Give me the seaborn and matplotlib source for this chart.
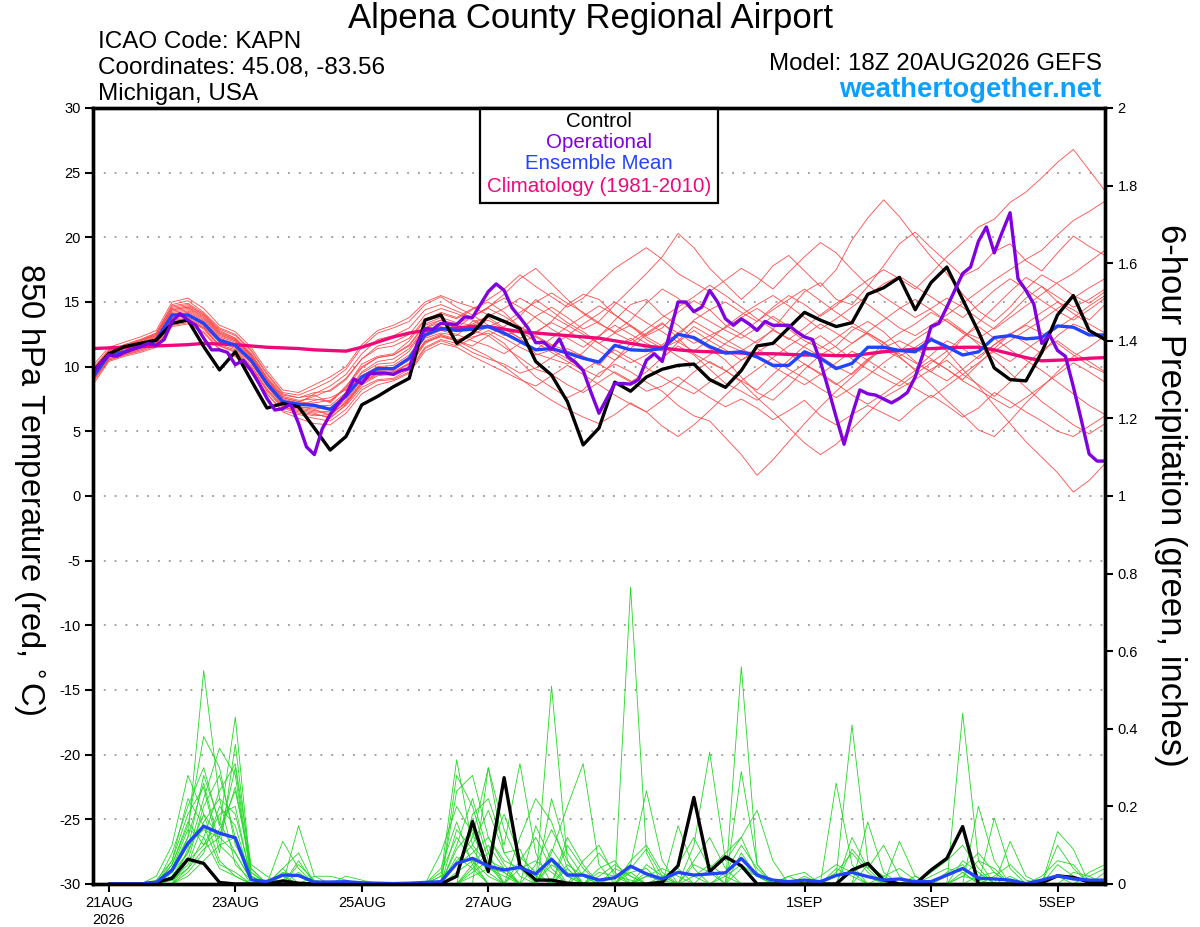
import numpy as np
import pandas as pd
import matplotlib
matplotlib.use('Agg')
import matplotlib.pyplot as plt
import seaborn as sns
from matplotlib.patches import Rectangle

sns.set_theme(style='white')
plt.rcParams['font.family'] = ['Liberation Sans', 'DejaVu Sans']
plt.rcParams['axes.unicode_minus'] = False
plt.rcParams['text.color'] = 'black'
plt.rcParams['xtick.color'] = 'black'
plt.rcParams['ytick.color'] = 'black'
plt.rcParams['axes.labelcolor'] = 'black'

# ---------------- data ----------------
run_start = '2026-08-20 18:00'
times = pd.date_range(run_start, periods=65, freq='6h')      # GEFS 6-hourly
times_op = pd.date_range(run_start, periods=129, freq='3h')  # operational 3-hourly
times_pr = times[1:]                                         # 6-h precip totals

tick_dates = ['2026-08-21', '2026-08-23', '2026-08-25', '2026-08-27',
              '2026-08-29', '2026-09-01', '2026-09-03', '2026-09-05']
tick_labels = ['21AUG\n2026', '23AUG', '25AUG', '27AUG', '29AUG', '1SEP', '3SEP', '5SEP']

temp_ticks = [-30, -25, -20, -15, -10, -5, 0, 5, 10, 15, 20, 25, 30]
precip_ticks = [0, 0.2, 0.4, 0.6, 0.8, 1.0, 1.2, 1.4, 1.6, 1.8, 2.0]
precip_tick_labels = ['0', '0.2', '0.4', '0.6', '0.8', '1', '1.2', '1.4', '1.6', '1.8', '2']

control_temp = [9.6, 11.0, 11.55, 11.8, 12.05, 13.35, 13.6, 11.55, 9.75, 11.15, 8.95, 6.8, 7.15,
                6.9, 5.25, 3.55, 4.6, 7.05, 7.7, 8.45, 9.1, 13.6, 14.0, 11.8, 12.6,
                14.0, 13.5, 12.95, 10.4, 9.35, 7.3, 3.95, 5.25, 8.8, 8.1, 9.2, 9.8, 10.1, 10.2, 9.0, 8.4,
                9.7, 11.6, 11.8, 13.0, 14.2, 13.6, 13.1, 13.4, 15.6, 16.1, 16.9, 14.4,
                16.5, 17.7, 15.2, 12.7, 9.9, 9.0, 8.9, 11.1, 14.0, 15.5, 12.8, 12.1]

mean_temp = [9.2, 10.9, 11.15, 11.55, 12.05, 14.0, 14.0, 13.35, 12.05, 11.65, 10.5, 8.7, 7.3,
             7.1, 7.0, 6.7, 7.7, 9.2, 9.85, 9.85, 10.65, 12.45, 12.95, 12.8, 12.9,
             13.1, 12.6, 11.95, 11.3, 11.4, 11.05, 10.65, 10.35, 11.65, 11.3, 11.25, 11.4, 12.5, 12.25, 11.55, 11.05,
             11.15, 10.75, 10.1, 10.1, 11.15, 10.65, 9.85, 10.25, 11.5, 11.5, 11.25, 11.15,
             12.1, 11.55, 10.9, 11.15, 12.25, 12.4, 12.15, 12.25, 13.15, 13.05, 12.45, 12.45]

clim_temp = [11.4, 11.45, 11.5, 11.55, 11.6, 11.65, 11.7, 11.8, 11.75, 11.7, 11.6, 11.5, 11.45,
             11.4, 11.3, 11.25, 11.2, 11.5, 11.9, 12.3, 12.6, 12.8, 12.9, 13.0, 13.1,
             13.1, 12.9, 12.7, 12.6, 12.5, 12.4, 12.3, 12.2, 12.0, 11.8, 11.6, 11.45, 11.3, 11.2, 11.15, 11.1,
             11.05, 11.0, 11.0, 10.95, 10.9, 10.9, 10.85, 10.85, 11.0, 11.15, 11.25, 11.35,
             11.4, 11.45, 11.5, 11.5, 11.3, 11.0, 10.7, 10.45, 10.5, 10.55, 10.65, 10.7]

oper_temp = [9.5, 10.3, 10.9, 10.8, 11.1, 11.35, 11.55, 11.8, 11.65, 12.1, 13.5, 14.1, 13.6, 13.2, 12.2, 11.3,
             11.3, 11.1, 10.15, 10.5, 9.7, 8.7, 7.55, 6.65, 6.75, 7.1, 5.6, 3.8, 3.2, 5.2, 6.3, 7.1,
             7.85, 9.05, 8.7, 9.45, 9.5, 9.5, 9.4, 9.7, 9.85, 11.8, 12.95, 12.9, 13.35, 13.3, 13.25, 13.85,
             13.8, 14.8, 15.8, 16.4, 15.9, 14.55, 13.8, 13.0, 11.85, 11.9, 11.35, 12.15, 10.8, 10.35, 9.7, 8.0,
             6.4, 7.55, 8.7, 8.7, 8.65, 9.0, 10.5, 11.0, 10.4, 12.7, 15.0, 15.0, 14.25, 14.6, 15.9, 15.0,
             13.7, 13.2, 13.7, 13.3, 12.8, 13.5, 13.2, 13.2, 13.2, 12.7, 12.3, 12.1, 10.4, 8.3, 6.1, 4.0,
             6.25, 8.2, 7.9, 7.8, 7.5, 7.2, 7.55, 8.0, 9.2, 11.0, 13.1, 13.35, 14.6, 15.9, 17.2, 17.7,
             19.7, 20.8, 18.8, 20.4, 21.9, 16.8, 15.9, 14.85, 11.8, 12.45, 11.25, 10.8, 8.45, 5.9, 3.25, 2.7, 2.7]

# ensemble member 850 hPa temperatures
temp_m01 = [9.8, 11.2, 11.6, 12.0, 12.5, 14.6, 14.8, 14.0, 12.8, 12.2, 11.0, 9.2, 7.8,
            7.6, 7.8, 7.2, 8.4, 10.2, 10.8, 11.0, 12.0, 13.6, 14.2, 13.8, 14.5,
            15.0, 14.2, 13.0, 12.6, 13.5, 14.8, 15.6, 15.2, 14.0, 13.2, 12.4, 13.0, 14.2, 15.1, 14.4, 13.2,
            12.5, 11.8, 12.9, 14.4, 15.8, 16.5, 15.2, 14.8, 16.2, 17.8, 19.5, 20.4,
            19.2, 18.1, 17.0, 17.6, 18.9, 19.5, 18.2, 17.4, 18.8, 20.1, 19.3, 18.6]
temp_m02 = [9.0, 10.6, 11.0, 11.3, 11.8, 13.5, 13.6, 13.0, 11.6, 11.2, 10.0, 8.2, 6.9,
            6.6, 6.4, 6.0, 7.1, 8.6, 9.3, 9.4, 10.0, 11.8, 12.4, 12.0, 11.6,
            12.4, 11.5, 10.7, 9.8, 9.4, 8.6, 8.0, 8.8, 9.6, 8.9, 8.1, 8.5, 9.2, 8.4, 7.6, 6.9,
            7.5, 6.8, 5.9, 6.6, 7.4, 6.2, 5.5, 6.3, 7.0, 6.4, 5.8, 6.9,
            7.8, 7.0, 6.1, 6.8, 8.0, 7.3, 6.5, 5.8, 5.0, 4.6, 5.4, 6.2]
temp_m03 = [9.4, 11.0, 11.4, 11.8, 12.3, 14.2, 14.4, 13.6, 12.4, 12.0, 10.8, 8.9, 7.4,
            7.0, 7.4, 7.6, 8.2, 9.0, 9.6, 9.7, 10.6, 12.2, 12.6, 12.4, 13.5,
            13.8, 13.0, 12.2, 11.0, 10.6, 10.2, 11.1, 12.3, 13.6, 14.8, 15.2, 14.0, 13.2, 12.1, 11.4, 10.5,
            9.2, 8.0, 7.4, 8.5, 9.8, 10.9, 11.6, 12.8, 13.5, 12.7, 11.5, 10.4,
            9.6, 10.8, 12.2, 13.4, 14.6, 15.8, 16.9, 16.2, 15.0, 14.4, 13.6, 14.8]
temp_m04 = [9.9, 11.3, 11.7, 12.1, 12.6, 14.8, 15.1, 14.2, 13.0, 12.5, 11.3, 9.5, 8.0,
            7.8, 8.3, 8.9, 9.8, 11.5, 12.6, 13.0, 13.5, 14.8, 15.4, 14.6, 14.0,
            13.2, 12.4, 12.8, 13.9, 14.6, 13.8, 12.9, 13.5, 14.8, 16.0, 17.2, 18.5, 20.3, 19.2, 17.6, 16.4,
            15.2, 16.3, 17.8, 18.6, 17.4, 16.2, 17.5, 19.8, 21.5, 22.9, 21.6, 20.0,
            18.5, 17.2, 15.6, 14.3, 13.5, 14.6, 16.0, 17.1, 16.4, 15.5, 14.9, 15.8]
temp_m05 = [8.8, 10.5, 10.9, 11.2, 11.6, 13.2, 13.4, 12.7, 11.4, 10.8, 9.6, 7.9, 6.6,
            6.3, 6.0, 5.8, 6.7, 8.2, 8.9, 9.0, 9.6, 11.4, 12.0, 11.6, 12.2,
            12.8, 12.2, 11.5, 10.9, 11.3, 10.6, 9.8, 9.2, 10.5, 11.8, 12.6, 13.4, 12.2, 11.0, 10.3, 9.7,
            8.8, 7.6, 6.5, 5.3, 4.1, 3.2, 4.0, 5.2, 6.4, 7.6, 8.3, 9.0,
            9.8, 10.5, 9.4, 8.6, 7.7, 8.8, 10.1, 11.3, 12.0, 11.1, 10.4, 9.6]
temp_m06 = [9.6, 11.1, 11.5, 11.9, 12.4, 14.4, 14.6, 13.9, 12.6, 12.1, 10.9, 9.0, 7.6,
            7.3, 7.1, 6.8, 7.9, 9.5, 10.2, 10.3, 11.2, 13.0, 13.6, 13.2, 12.8,
            12.4, 13.1, 13.9, 15.2, 14.3, 13.4, 12.7, 11.8, 12.6, 13.2, 12.1, 11.4, 12.0, 13.1, 12.4, 11.7,
            11.2, 12.0, 12.8, 12.2, 11.5, 10.8, 10.0, 9.4, 10.5, 11.8, 12.6, 13.3,
            14.2, 13.5, 12.7, 12.2, 13.0, 14.1, 15.3, 16.2, 15.4, 14.6, 15.2, 16.0]
temp_m07 = [9.2, 10.8, 11.2, 11.5, 12.0, 13.8, 14.0, 13.3, 12.0, 11.6, 10.4, 8.6, 7.2,
            6.9, 6.7, 6.2, 7.3, 8.8, 9.5, 9.6, 10.3, 12.0, 12.5, 12.1, 12.3,
            12.6, 11.8, 10.4, 9.2, 8.4, 7.6, 8.2, 9.5, 10.2, 9.6, 8.8, 8.1, 7.0, 6.2, 5.8, 4.5,
            3.2, 1.6, 2.8, 4.2, 5.6, 6.9, 8.1, 9.2, 10.4, 11.5, 12.0, 11.4,
            10.6, 9.8, 9.0, 10.2, 11.4, 12.5, 13.2, 12.6, 11.8, 10.9, 10.1, 9.5]
temp_m08 = [9.7, 11.2, 11.6, 12.0, 12.4, 14.5, 14.7, 14.0, 12.7, 12.2, 11.0, 9.1, 7.7,
            7.4, 7.5, 7.3, 8.5, 10.0, 10.7, 10.9, 11.7, 13.3, 13.8, 13.4, 13.2,
            13.6, 12.9, 12.2, 12.7, 13.4, 12.8, 12.0, 11.2, 10.5, 11.4, 12.5, 13.3, 12.6, 11.8, 12.4, 13.0,
            13.8, 14.5, 13.7, 12.9, 12.0, 11.4, 12.2, 13.1, 12.5, 11.6, 10.8, 11.5,
            12.3, 11.2, 9.8, 8.5, 7.0, 5.6, 4.2, 3.0, 1.8, 0.3, 1.2, 2.5]
temp_m09 = [9.3, 10.9, 11.3, 11.7, 12.2, 14.0, 14.2, 13.4, 12.2, 11.8, 10.6, 8.8, 7.3,
            7.0, 7.0, 7.0, 8.0, 9.6, 10.4, 10.6, 11.4, 13.0, 13.4, 13.0, 13.9,
            14.6, 15.3, 14.6, 13.8, 12.9, 12.2, 11.5, 12.4, 13.2, 12.5, 11.8, 11.2, 12.4, 13.6, 14.4, 15.0,
            14.2, 13.5, 14.6, 15.5, 14.8, 13.9, 14.7, 15.8, 16.7, 17.5, 16.8, 16.0,
            17.2, 18.5, 19.6, 20.8, 21.4, 22.7, 23.5, 24.6, 25.8, 26.8, 25.2, 23.6]
temp_m10 = [9.1, 10.7, 11.1, 11.4, 11.9, 13.7, 13.8, 13.1, 11.9, 11.4, 10.3, 8.5, 7.1,
            6.8, 6.6, 6.5, 7.4, 9.0, 9.7, 9.8, 10.5, 12.3, 12.8, 12.5, 12.0,
            11.6, 11.0, 11.8, 12.4, 11.7, 11.2, 10.8, 10.1, 11.5, 12.2, 11.4, 10.6, 11.9, 12.8, 12.0, 11.3,
            10.5, 11.1, 11.9, 11.0, 10.2, 9.4, 8.6, 9.5, 10.6, 11.3, 10.7, 9.8,
            10.9, 12.0, 11.4, 10.6, 11.7, 12.6, 11.8, 11.0, 12.4, 13.3, 12.8, 12.0]
temp_m11 = [9.5, 11.0, 11.4, 11.8, 12.3, 14.3, 14.5, 13.7, 12.5, 12.0, 10.8, 9.0, 7.5,
            7.2, 7.9, 8.5, 9.4, 11.0, 12.1, 12.4, 13.0, 14.4, 14.8, 14.3, 13.8,
            14.6, 15.6, 16.8, 17.6, 16.4, 15.2, 14.1, 13.3, 12.7, 13.6, 14.9, 16.0, 15.3, 14.2, 13.5, 12.8,
            12.2, 13.0, 13.9, 13.1, 12.4, 11.6, 10.9, 11.8, 12.6, 11.9, 10.8, 9.7,
            8.6, 7.4, 6.3, 5.1, 4.6, 5.8, 7.2, 8.4, 9.6, 10.8, 11.5, 12.4]
temp_m12 = [9.0, 10.6, 11.0, 11.4, 11.8, 13.6, 13.7, 13.0, 11.7, 11.3, 10.1, 8.3, 6.9,
            6.5, 6.3, 6.1, 7.0, 8.4, 9.0, 9.1, 9.8, 11.5, 12.1, 11.8, 11.1,
            10.6, 10.2, 9.5, 9.9, 10.7, 11.4, 10.8, 10.2, 9.5, 8.8, 9.6, 10.7, 11.6, 10.9, 9.8, 8.7,
            8.1, 7.4, 8.3, 9.4, 10.2, 9.5, 8.7, 7.8, 7.1, 7.9, 8.8, 9.7,
            10.5, 9.8, 8.9, 8.2, 7.5, 6.8, 7.6, 8.5, 9.4, 10.3, 9.6, 8.8]
temp_m13 = [9.8, 11.3, 11.7, 12.1, 12.6, 14.7, 14.9, 14.1, 12.9, 12.4, 11.2, 9.4, 7.9,
            7.6, 8.0, 8.1, 9.0, 10.6, 11.4, 11.6, 12.2, 13.7, 14.1, 13.7, 14.4,
            15.2, 16.0, 17.1, 16.2, 15.4, 14.6, 15.3, 16.5, 17.6, 18.4, 19.2, 18.3, 17.2, 16.5, 15.8, 16.7,
            17.6, 16.9, 16.0, 17.3, 18.5, 19.6, 18.8, 17.5, 16.3, 15.4, 14.6, 13.8,
            14.5, 15.3, 14.6, 13.7, 12.9, 13.8, 14.7, 15.6, 16.5, 17.2, 18.1, 19.0]
temp_m14 = [8.6, 10.4, 10.8, 11.1, 11.5, 13.1, 13.3, 12.6, 11.3, 10.8, 9.7, 7.9, 6.5,
            6.0, 5.6, 5.5, 6.4, 7.9, 8.6, 8.9, 9.5, 11.2, 11.8, 11.5, 10.8,
            10.2, 9.6, 9.0, 8.5, 9.3, 10.1, 9.4, 8.6, 7.8, 7.1, 6.5, 7.4, 8.5, 9.6, 10.4, 9.7,
            8.9, 8.2, 9.4, 10.5, 11.6, 12.4, 11.5, 10.6, 9.8, 9.1, 8.5, 9.4,
            10.3, 11.2, 12.3, 13.1, 12.2, 11.3, 10.5, 9.7, 8.8, 7.9, 7.0, 6.3]
temp_m15 = [10.1, 11.5, 11.9, 12.3, 12.8, 15.0, 15.3, 14.5, 13.2, 12.7, 11.5, 9.7, 8.2,
            8.0, 8.6, 9.2, 10.0, 11.7, 12.8, 13.2, 13.8, 15.0, 15.5, 15.0, 14.6,
            14.0, 13.4, 14.2, 15.0, 15.7, 14.9, 14.2, 13.4, 12.6, 12.0, 12.9, 13.8, 14.6, 15.4, 16.3, 15.5,
            14.6, 13.7, 12.9, 12.1, 13.0, 14.0, 14.9, 15.6, 14.8, 13.9, 13.0, 12.4,
            13.2, 14.0, 14.9, 15.8, 16.7, 17.5, 18.3, 19.0, 20.2, 21.3, 22.0, 22.8]
temp_m16 = [9.2, 10.8, 11.1, 11.5, 11.9, 13.8, 13.9, 13.2, 11.9, 11.5, 10.3, 8.5, 7.0,
            6.7, 6.5, 6.4, 7.2, 8.7, 9.4, 9.5, 10.2, 11.9, 12.4, 12.0, 11.4,
            10.8, 10.0, 9.1, 8.2, 7.4, 6.7, 6.1, 5.6, 6.3, 7.2, 6.5, 5.4, 4.6, 5.5, 6.6, 7.8,
            8.9, 9.8, 10.7, 11.6, 12.4, 13.3, 12.6, 11.8, 12.7, 13.6, 14.5, 15.2,
            14.4, 13.5, 12.6, 11.9, 11.1, 10.4, 11.3, 12.2, 13.0, 13.8, 14.7, 15.5]
temp_m17 = [9.4, 10.9, 11.3, 11.7, 12.2, 14.1, 14.3, 13.5, 12.3, 11.9, 10.7, 8.8, 7.4,
            7.1, 7.2, 7.4, 8.3, 9.9, 10.7, 10.9, 11.6, 13.2, 13.6, 13.3, 13.9,
            14.5, 13.9, 13.1, 12.3, 11.6, 12.4, 13.3, 14.1, 15.0, 14.2, 13.4, 12.7, 11.9, 11.2, 12.1, 13.1,
            14.0, 14.8, 15.5, 14.7, 13.8, 12.9, 13.7, 14.6, 15.5, 16.4, 17.0, 16.2,
            15.4, 14.6, 13.8, 14.8, 15.9, 16.8, 16.0, 15.1, 14.3, 13.6, 14.4, 15.3]
temp_m18 = [8.9, 10.5, 10.9, 11.3, 11.7, 13.4, 13.6, 12.9, 11.6, 11.1, 9.9, 8.1, 6.8,
            6.4, 6.2, 6.3, 7.2, 8.8, 9.5, 9.6, 10.2, 11.9, 12.3, 12.0, 12.5,
            13.1, 13.6, 12.8, 11.9, 11.1, 10.4, 9.7, 10.5, 11.3, 10.6, 9.9, 9.2, 8.5, 7.9, 8.8, 9.6,
            10.5, 11.4, 10.6, 9.8, 9.1, 8.3, 7.6, 8.4, 9.3, 10.3, 11.2, 12.1,
            12.9, 13.7, 12.8, 11.7, 10.6, 9.5, 8.4, 7.3, 6.4, 5.5, 4.8, 5.6]
temp_m19 = [9.6, 11.1, 11.5, 12.0, 12.5, 14.4, 14.6, 13.8, 12.6, 12.1, 10.9, 9.1, 7.6,
            7.3, 7.7, 8.2, 9.1, 10.6, 11.6, 11.9, 12.5, 14.0, 14.5, 14.1, 13.6,
            13.0, 12.5, 11.9, 11.3, 12.2, 13.1, 13.9, 14.7, 14.0, 13.1, 12.3, 11.6, 10.8, 10.1, 10.9, 11.8,
            12.6, 13.5, 14.4, 15.2, 16.0, 15.1, 14.2, 13.4, 12.6, 11.8, 11.0, 10.3,
            9.6, 8.9, 9.8, 10.8, 11.7, 12.5, 13.3, 14.2, 15.0, 14.1, 13.3, 12.6]
temp_m20 = [9.3, 10.8, 11.2, 11.6, 12.0, 13.9, 14.1, 13.3, 12.0, 11.6, 10.5, 8.7, 7.2,
            6.9, 6.8, 6.7, 7.7, 9.3, 10.0, 10.1, 10.9, 12.6, 13.1, 12.8, 13.3,
            13.9, 14.5, 15.3, 14.6, 13.9, 13.2, 12.5, 11.8, 11.0, 10.3, 10.9, 11.7, 12.6, 13.5, 12.8, 12.1,
            11.4, 10.7, 10.0, 9.3, 8.6, 9.4, 10.3, 11.2, 10.5, 9.7, 9.0, 8.3,
            7.6, 8.5, 9.4, 10.3, 11.2, 12.0, 12.8, 13.6, 14.5, 15.3, 16.1, 16.8]

control_precip = [0, 0, 0, 0.004, 0.015, 0.064, 0.053, 0.004,
                  0, 0, 0, 0.008, 0.002, 0, 0, 0,
                  0, 0, 0, 0, 0, 0, 0.02, 0.161,
                  0.032, 0.274, 0.047, 0.01, 0.01, 0.002, 0, 0,
                  0, 0, 0, 0.005, 0.047, 0.223, 0.032, 0.07,
                  0.047, 0, 0, 0, 0, 0, 0, 0.036,
                  0.053, 0.01, 0, 0, 0.036, 0.066, 0.148, 0,
                  0, 0, 0, 0.003, 0.021, 0.017, 0.005, 0.005]

mean_precip = [0, 0, 0, 0.004, 0.036, 0.105, 0.149, 0.131,
               0.119, 0.011, 0.006, 0.023, 0.022, 0.005, 0.005, 0.006,
               0.003, 0.002, 0.001, 0.002, 0.004, 0.006, 0.053, 0.066,
               0.046, 0.036, 0.043, 0.026, 0.064, 0.023, 0.023, 0.01,
               0.016, 0.046, 0.026, 0.013, 0.03, 0.023, 0.026, 0.029,
               0.066, 0.023, 0.01, 0.006, 0.01, 0.006, 0.022, 0.03,
               0.019, 0.01, 0.013, 0.006, 0.006, 0.023, 0.04, 0.015,
               0.013, 0.01, 0.001, 0.01, 0.021, 0.013, 0.01, 0.01]

# ensemble member 6-hour precipitation (inches)
prcp_m01 = [0, 0, 0, 0, .04, .12, .55, .22, .05, .01, 0, 0, 0, 0, 0, 0,
            0, 0, 0, 0, 0, 0, .05, .12, .30, .08, .02, 0, 0, 0, 0, 0,
            0, .05, .24, .06, 0, 0, 0, 0, 0, 0, 0, 0, 0, 0, .02, .41,
            .06, 0, 0, 0, 0, 0, .03, 0, 0, 0, 0, 0, 0, 0, 0, 0]
prcp_m02 = [0, 0, 0, 0, .08, .20, .30, .15, .43, .02, 0, .11, .04, 0, 0, 0,
            0, 0, 0, 0, 0, .02, .32, .10, .05, 0, 0, 0, .08, .20, .31, .05,
            0, 0, 0, 0, 0, 0, 0, 0, .56, .05, 0, 0, 0, 0, 0, 0,
            0, 0, 0, 0, 0, 0, .44, .06, 0, 0, 0, 0, 0, 0, 0, 0]
prcp_m03 = [0, 0, 0, .02, .10, .28, .18, .12, .25, .04, 0, 0, .15, .02, 0, 0,
            0, 0, 0, 0, 0, 0, .24, .28, .12, .06, .04, 0, .51, .06, 0, 0,
            0, .765, .08, 0, 0, .05, .03, 0, 0, 0, 0, 0, 0, 0, 0, 0,
            .16, .03, 0, 0, 0, 0, 0, 0, .17, .04, 0, 0, 0, 0, 0, 0]
prcp_m04 = [0, 0, 0, 0, .05, .15, .38, .30, .10, .03, 0, .04, 0, 0, 0, 0,
            0, 0, 0, 0, 0, 0, 0, .18, .22, .10, .31, .08, 0, 0, 0, .04,
            .06, 0, 0, 0, 0, .10, .34, .06, .12, .19, .06, 0, 0, 0, .26, .05,
            0, 0, 0, 0, 0, 0, 0, .20, .06, 0, 0, 0, .135, .09, 0, 0]
prcp_m05 = [0, 0, 0, 0, .02, .08, .22, .35, .28, .01, 0, 0, .06, 0, 0, 0,
            0, 0, 0, 0, 0, .04, .16, .05, 0, 0, .12, .22, .16, .04, 0, 0,
            0, 0, .03, 0, .15, .04, 0, 0, .29, .05, 0, 0, 0, 0, 0, 0,
            0, 0, .11, .02, 0, 0, 0, 0, 0, 0, 0, 0, 0, 0, 0, 0]
prcp_m06 = [0, 0, 0, 0, 0, .04, .12, .24, .31, .05, .02, 0, 0, 0, 0, 0,
            0, 0, 0, 0, 0, 0, .28, .20, .06, 0, 0, 0, .22, .08, .02, 0,
            0, .06, .10, .03, 0, 0, 0, 0, 0, 0, 0, .02, .03, 0, 0, 0,
            0, 0, 0, 0, .03, .06, .10, .04, 0, 0, 0, 0, 0, 0, .03, .05]
prcp_m07 = [0, 0, 0, .01, .06, .18, .25, .08, .36, .02, 0, .04, .08, 0, 0, 0,
            0, 0, 0, 0, 0, 0, 0, 0, .30, .14, .05, .02, 0, .12, .05, 0,
            .04, .02, 0, 0, .05, .12, .04, 0, 0, 0, 0, 0, 0, 0, 0, .09,
            .04, .10, .02, 0, 0, 0, 0, 0, 0, .11, .02, 0, 0, 0, 0, 0]
prcp_m08 = [0, 0, 0, 0, .03, .10, .14, .12, .30, .02, 0, 0, 0, 0, 0, 0,
            0, 0, 0, 0, 0, .08, .20, .13, .04, .02, 0, .05, .14, .06, 0, 0,
            0, 0, .05, .02, 0, 0, 0, .03, .10, .04, 0, 0, 0, .02, .05, .03,
            0, 0, 0, 0, 0, .02, .04, .08, .03, 0, 0, 0, 0, 0, 0, 0]
prcp_m09 = [0, 0, 0, 0, .05, .16, .10, .18, .20, .01, 0, 0, 0, .02, .02, .01,
            0, 0, 0, 0, 0, 0, .06, .10, .19, .08, .09, 0, 0, 0, .03, .08,
            .03, 0, 0, 0, 0, 0, .04, .08, .12, .03, 0, 0, 0, 0, 0, 0,
            0, 0, 0, 0, 0, 0, 0, 0, 0, 0, 0, .02, .06, .05, 0, 0]
prcp_m10 = [0, 0, 0, 0, 0, .06, .20, .28, .12, .03, 0, .03, .02, 0, 0, 0,
            0, 0, 0, 0, 0, 0, 0, .04, .08, .18, .07, .03, 0, .04, 0, 0,
            0, .04, .09, .02, 0, 0, 0, 0, 0, 0, 0, 0, 0, 0, 0, 0,
            .05, .02, 0, 0, 0, 0, .06, .03, 0, 0, 0, 0, .10, .04, 0, 0]
prcp_m11 = [0, 0, 0, 0, .03, .12, .26, .10, .06, 0, .01, 0, 0, 0, 0, .02,
            .01, 0, 0, 0, 0, 0, .10, .22, .08, 0, 0, .15, .06, 0, 0, 0,
            .02, .03, 0, 0, 0, .06, .12, .04, 0, 0, 0, 0, 0, 0, .03, .08,
            .03, 0, 0, .02, 0, 0, 0, 0, 0, 0, 0, 0, 0, 0, 0, 0]
prcp_m12 = [0, 0, 0, 0, .01, .05, .16, .22, .18, .02, 0, 0, .05, .01, 0, 0,
            0, 0, 0, 0, 0, .03, .12, .06, 0, 0, 0, 0, .05, .02, 0, 0,
            0, 0, 0, .02, .04, 0, 0, 0, .08, .02, 0, 0, 0, 0, 0, 0,
            0, 0, 0, 0, 0, .03, .05, 0, 0, 0, 0, 0, 0, 0, .02, .04]
prcp_m13 = [0, 0, 0, 0, 0, .09, .28, .16, .08, .01, 0, 0, 0, 0, 0, 0,
            0, 0, 0, 0, 0, 0, .14, .09, .03, 0, .06, .12, .04, 0, .06, .10,
            .02, .01, 0, 0, 0, 0, 0, 0, 0, 0, 0, 0, 0, 0, 0, .12,
            .04, 0, 0, 0, 0, 0, 0, 0, .02, .05, .01, 0, 0, 0, 0, 0]
prcp_m14 = [0, 0, 0, 0, .06, .22, .15, .05, .03, 0, .01, .02, 0, 0, 0, 0,
            0, 0, 0, 0, 0, 0, 0, .03, .06, .04, 0, 0, 0, .10, .04, 0,
            0, 0, .02, .04, .02, 0, 0, 0, 0, 0, 0, .02, 0, 0, 0, 0,
            0, 0, 0, 0, 0, 0, .02, .06, .04, 0, 0, 0, 0, .03, .02, 0]
prcp_m15 = [0, 0, 0, 0, .02, .06, .10, .14, .24, .04, 0, 0, 0, 0, 0, 0,
            0, 0, 0, 0, 0, 0, .09, .14, .05, .03, 0, 0, 0, 0, 0, .02,
            .05, .02, 0, 0, 0, 0, 0, .02, .05, .02, 0, 0, 0, 0, 0, 0,
            0, .02, .04, .01, 0, 0, 0, 0, 0, 0, 0, 0, 0, 0, 0, 0]
prcp_m16 = [0, 0, 0, 0, 0, .03, .08, .20, .15, .01, 0, 0, 0, 0, 0, 0,
            0, 0, 0, 0, 0, .02, .05, .08, .12, .05, 0, 0, .09, .03, 0, 0,
            0, 0, 0, 0, 0, .02, .05, .02, 0, 0, 0, 0, 0, 0, .04, .02,
            0, 0, 0, 0, 0, 0, 0, 0, 0, 0, 0, 0, .05, .02, 0, 0]
prcp_m17 = [0, 0, 0, 0, .04, .14, .12, .04, .02, 0, 0, 0, .03, 0, 0, 0,
            0, 0, 0, 0, 0, 0, .07, .04, 0, 0, .04, .06, .03, 0, 0, 0,
            0, .03, .04, 0, 0, 0, 0, 0, 0, 0, 0, 0, .02, 0, 0, 0,
            0, 0, 0, 0, .02, .04, .03, 0, 0, 0, 0, 0, 0, 0, 0, .03]
prcp_m18 = [0, 0, 0, 0, 0, .02, .06, .10, .12, .02, 0, 0, 0, 0, 0, 0,
            0, 0, 0, 0, 0, 0, 0, .05, .10, .04, 0, 0, 0, .05, .02, 0,
            0, 0, 0, 0, .03, .02, 0, 0, 0, 0, 0, 0, 0, 0, 0, .03,
            .02, 0, 0, 0, 0, 0, 0, .02, .03, 0, 0, 0, 0, 0, 0, 0]
prcp_m19 = [0, 0, 0, 0, .03, .08, .18, .06, .02, 0, 0, .02, 0, 0, 0, 0,
            0, 0, 0, 0, 0, 0, .03, .06, .02, 0, 0, 0, 0, 0, 0, .03,
            .02, 0, 0, 0, 0, 0, 0, 0, .04, .02, 0, 0, 0, 0, 0, 0,
            0, 0, 0, 0, 0, 0, 0, 0, 0, .02, 0, 0, .02, 0, 0, 0]
prcp_m20 = [0, 0, 0, 0, .01, .04, .09, .12, .08, .01, 0, 0, 0, 0, 0, 0,
            0, 0, 0, 0, 0, 0, 0, .02, .04, .03, 0, 0, .06, .02, 0, 0,
            0, 0, .02, .01, 0, 0, 0, 0, 0, 0, 0, 0, 0, 0, 0, 0,
            0, 0, 0, 0, 0, 0, .02, .01, 0, 0, 0, 0, 0, 0, 0, 0]

temp_members = [temp_m01, temp_m02, temp_m03, temp_m04, temp_m05, temp_m06, temp_m07,
                temp_m08, temp_m09, temp_m10, temp_m11, temp_m12, temp_m13, temp_m14,
                temp_m15, temp_m16, temp_m17, temp_m18, temp_m19, temp_m20]
prcp_members = [prcp_m01, prcp_m02, prcp_m03, prcp_m04, prcp_m05, prcp_m06, prcp_m07,
                prcp_m08, prcp_m09, prcp_m10, prcp_m11, prcp_m12, prcp_m13, prcp_m14,
                prcp_m15, prcp_m16, prcp_m17, prcp_m18, prcp_m19, prcp_m20]

legend_labels = ['Control', 'Operational', 'Ensemble Mean', 'Climatology (1981-2010)']

# colours
c_member_t = '#ff4a4a'
c_member_p = '#22d822'
c_control = 'black'
c_oper = '#8000e0'
c_mean = '#2244ff'
c_clim = '#f0087a'
legend_colors = [c_control, c_oper, c_mean, c_clim]

# long tables for seaborn
ens_t = pd.DataFrame({
    'time': np.tile(times, len(temp_members)),
    'member': np.repeat(np.arange(len(temp_members)), len(times)),
    'temp': np.concatenate(temp_members),
})
ens_p = pd.DataFrame({
    'time': np.tile(times_pr, len(prcp_members)),
    'member': np.repeat(np.arange(len(prcp_members)), len(times_pr)),
    'precip': np.concatenate(prcp_members),
})

# ---------------- figure ----------------
fig = plt.figure(figsize=(12, 9.27), dpi=100)
ax = fig.add_axes([0.0775, 0.0464, 0.8433, 0.8371])
ax2 = ax.twinx()

# temperature (left axis)
sns.lineplot(data=ens_t, x='time', y='temp', units='member', estimator=None,
             color=c_member_t, lw=0.6, ax=ax, legend=False)
sns.lineplot(x=times, y=clim_temp, color=c_clim, lw=2.4, ax=ax)
sns.lineplot(x=times, y=mean_temp, color=c_mean, lw=2.4, ax=ax)
sns.lineplot(x=times, y=control_temp, color=c_control, lw=2.4, ax=ax)
sns.lineplot(x=times_op, y=oper_temp, color=c_oper, lw=2.4, ax=ax)

# precipitation (right axis)
sns.lineplot(data=ens_p, x='time', y='precip', units='member', estimator=None,
             color=c_member_p, lw=0.6, ax=ax2, legend=False)
sns.lineplot(x=times_pr, y=control_precip, color=c_control, lw=2.4, ax=ax2)
sns.lineplot(x=times_pr, y=mean_precip, color=c_mean, lw=2.4, ax=ax2)

ax.set_xlim(times[0], times[-1])
ax.set_ylim(-30, 30)
ax2.set_ylim(0, 2)

ax.set_xticks(pd.to_datetime(tick_dates))
ax.set_xticklabels(tick_labels)
ax.set_yticks(temp_ticks)
ax.set_yticklabels([str(t) for t in temp_ticks])
ax2.set_yticks(precip_ticks)
ax2.set_yticklabels(precip_tick_labels)

ax.set_xlabel('')
ax.set_ylabel('')
ax2.set_ylabel('')

ax.yaxis.grid(True, linestyle=(0, (1, 5)), color='#999999', lw=1.3)
ax.xaxis.grid(False)

ax.tick_params(axis='x', direction='out', length=6, width=1.5, labelsize=10.5, bottom=True, pad=3)
ax.tick_params(axis='y', direction='out', length=6, width=1.5, labelsize=10.5, left=True, pad=3)
ax2.tick_params(axis='y', direction='out', length=6, width=1.5, labelsize=10.5, right=True, pad=3)
for a in (ax, ax2):
    for sp in a.spines.values():
        sp.set_linewidth(2.4)
        sp.set_color('black')

# legend box (centered text lines, top of plot)
ax.add_patch(Rectangle((0.3825, 0.878), 0.2355, 0.122, transform=ax.transAxes,
                       facecolor='white', edgecolor='black', lw=1.6, zorder=5, clip_on=False))
legend_y = [0.983, 0.955, 0.928, 0.899]
for lab, col, yy in zip(legend_labels, legend_colors, legend_y):
    ax.text(0.5, yy, lab, color=col, transform=ax.transAxes, ha='center', va='center',
            fontsize=14.8, zorder=6)

# header texts
fig.text(0.492, 0.980, 'Alpena County Regional Airport', ha='center', va='center', fontsize=25)
fig.text(0.0817, 0.955, 'ICAO Code: KAPN', ha='left', va='center', fontsize=17.5)
fig.text(0.0817, 0.927, 'Coordinates: 45.08, -83.56', ha='left', va='center', fontsize=17.5)
fig.text(0.0817, 0.899, 'Michigan, USA', ha='left', va='center', fontsize=17.5)
fig.text(0.918, 0.931, 'Model: 18Z 20AUG2026 GEFS', ha='right', va='center', fontsize=17.4)
fig.text(0.918, 0.903, 'weathertogether.net', ha='right', va='center', fontsize=19.8,
         fontweight='bold', color='#0aa0ff')

# axis titles (both read top to bottom)
fig.text(0.024, 0.472, '850 hPa Temperature (red, $^{\\circ}$C)', rotation=-90,
         ha='center', va='center', fontsize=23.5)
fig.text(0.975, 0.466, '6-hour Precipitation (green, inches)', rotation=-90,
         ha='center', va='center', fontsize=25)

fig.savefig('out.png', dpi=100, facecolor='white')
